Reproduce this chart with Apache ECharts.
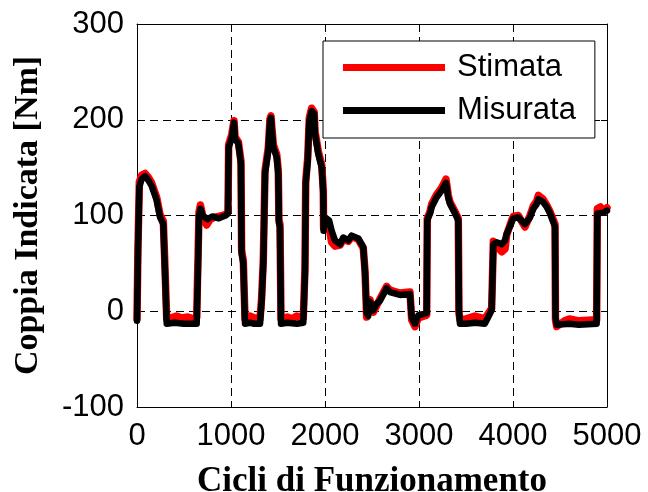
<!DOCTYPE html>
<html>
<head>
<meta charset="utf-8">
<script src="https://cdn.jsdelivr.net/npm/echarts@6/dist/echarts.min.js"></script>
<style>
  html, body { margin: 0; padding: 0; background: #fff; }
  #chart { width: 648px; height: 492px; }
</style>
</head>
<body>
<div id="chart"></div>
<script>
// Axis ranges and tick labels
const xTicks = [0, 1000, 2000, 3000, 4000, 5000];
const yTicks = [-100, 0, 100, 200, 300];

// Measured indicated torque (cycle, Nm)
const misurataX = [0, 10, 25, 50, 85, 120, 156, 209, 245, 280, 298, 316, 400, 500, 635, 652, 660, 675, 700, 750, 800, 870, 940, 968, 975, 1007, 1032, 1043, 1078, 1106, 1113, 1131, 1149, 1200, 1250, 1309, 1326, 1344, 1362, 1397, 1415, 1425, 1450, 1486, 1503, 1510, 1521, 1532, 1600, 1700, 1769, 1787, 1795, 1816, 1833, 1858, 1885, 1894, 1929, 1965, 1982, 1985, 2000, 2043, 2071, 2106, 2160, 2195, 2248, 2284, 2354, 2407, 2426, 2443, 2460, 2479, 2497, 2514, 2550, 2585, 2656, 2691, 2798, 2904, 2922, 2957, 2993, 3082, 3088, 3117, 3135, 3188, 3241, 3287, 3312, 3330, 3383, 3418, 3425, 3436, 3500, 3600, 3700, 3773, 3791, 3826, 3880, 3915, 3933, 3986, 4003, 4056, 4127, 4181, 4216, 4252, 4270, 4287, 4320, 4358, 4394, 4447, 4452, 4465, 4600, 4700, 4890, 4897, 4961, 5000];
const misurataY = [-10, 60, 130, 138, 141, 137, 131, 116, 98, 91, 40, -13, -12, -13, -13, 60, 100, 107, 100, 96, 99, 97, 100, 102, 171, 181, 197, 180, 175, 154, 60, 50, -13, -12, -13, -13, 11, 50, 144, 168, 199, 202, 171, 161, 144, 92, 88, -13, -12, -13, -12, 40, 133, 157, 199, 209, 206, 185, 164, 150, 123, 84, 98, 95, 84, 74, 70, 77, 74, 79, 76, 67, 40, -2, -5, 10, 11, 1, 8, 11, 24, 20, 17, 18, -6, -13, -4, -2, 95, 102, 109, 119, 126, 134, 118, 112, 102, 95, 1, -13, -13, -12, -13, 1, 70, 72, 70, 74, 81, 93, 97, 98, 91, 98, 107, 112, 117, 119, 114, 109, 102, 88, -6, -14, -13, -14, -13, 102, 103, 105];

// Estimated indicated torque (cycle, Nm)
const stimataX = [0, 10, 25, 50, 85, 120, 156, 209, 245, 280, 298, 316, 360, 420, 480, 540, 600, 635, 652, 660, 675, 700, 741, 780, 820, 870, 940, 968, 975, 1007, 1032, 1043, 1078, 1106, 1113, 1131, 1149, 1200, 1250, 1309, 1326, 1344, 1362, 1397, 1415, 1425, 1450, 1486, 1503, 1510, 1521, 1532, 1600, 1650, 1700, 1769, 1787, 1795, 1816, 1833, 1858, 1885, 1894, 1929, 1965, 1982, 1985, 2000, 2043, 2071, 2106, 2160, 2195, 2248, 2284, 2354, 2407, 2426, 2443, 2460, 2479, 2497, 2514, 2550, 2585, 2656, 2691, 2798, 2904, 2922, 2957, 2993, 3082, 3088, 3117, 3135, 3188, 3241, 3287, 3312, 3330, 3383, 3418, 3425, 3436, 3500, 3595, 3700, 3773, 3791, 3826, 3880, 3915, 3933, 3986, 4003, 4056, 4127, 4181, 4216, 4252, 4270, 4287, 4320, 4358, 4394, 4447, 4452, 4465, 4550, 4600, 4700, 4890, 4897, 4930, 4961, 5000];
const stimataY = [-8, 65, 135, 142, 144, 140, 134, 119, 101, 94, 45, -8, -7, -5, -7, -6, -8, -7, 70, 104, 111, 99, 90, 96, 98, 99, 101, 104, 174, 184, 199, 182, 177, 157, 64, 53, -8, -5, -7, -8, 14, 55, 147, 171, 201, 204, 174, 164, 147, 95, 91, -8, -6, -8, -5, -7, 45, 136, 160, 202, 212, 208, 188, 167, 153, 126, 87, 94, 88, 72, 68, 69, 75, 73, 78, 75, 66, 42, -6, -8, 12, 13, -1, 6, 13, 26, 22, 19, 20, -9, -16, -7, -4, 97, 104, 112, 122, 129, 138, 121, 114, 104, 97, -2, -9, -8, -5, -8, 3, 73, 68, 62, 65, 80, 95, 99, 100, 88, 100, 110, 115, 121, 123, 117, 111, 104, 91, -9, -16, -10, -8, -10, -9, 107, 109, 104, 108];

const pairs = (xs, ys) => xs.map((x, i) => [x, ys[i]]);

const sansFont = 'Liberation Sans, Arial, sans-serif';
const serifFont = 'Liberation Serif, Times New Roman, serif';

const gridLine = { show: true, lineStyle: { color: '#000', width: 1, type: [8, 5] } };
const boxLine = { show: true, onZero: false, lineStyle: { color: '#000', width: 1 } };
const innerTick = { show: true, inside: true, length: 6, lineStyle: { color: '#000', width: 1 } };
const plainNumber = v => String(v);

const chart = echarts.init(document.getElementById('chart'), null, { renderer: 'canvas' });

chart.setOption({
  animation: false,
  backgroundColor: '#fff',
  grid: { left: 137, right: 41, top: 24, bottom: 85, containLabel: false, outerBoundsMode: 'none' },
  legend: {
    data: ['Stimata', 'Misurata'],
    orient: 'vertical',
    left: 323,
    top: 41,
    padding: [11, 19, 12, 20],
    itemGap: 12,
    itemWidth: 102,
    itemHeight: 7,
    icon: 'rect',
    borderColor: '#000',
    borderWidth: 1,
    backgroundColor: '#fff',
    textStyle: { fontSize: 31, fontFamily: sansFont, color: '#000', padding: [0, 0, 0, 7] }
  },
  xAxis: [
    {
      type: 'value', min: xTicks[0], max: xTicks[xTicks.length - 1], interval: 1000,
      position: 'bottom',
      axisLine: boxLine, axisTick: innerTick, splitLine: gridLine,
      axisLabel: { fontSize: 31, fontFamily: sansFont, color: '#000', margin: 14, formatter: plainNumber },
      name: 'Cicli di Funzionamento', nameLocation: 'middle', nameGap: 57,
      nameTextStyle: { fontSize: 35, fontFamily: serifFont, fontWeight: 'bold', color: '#000' }
    },
    {
      type: 'value', min: xTicks[0], max: xTicks[xTicks.length - 1], interval: 1000,
      position: 'top',
      axisLine: boxLine, axisTick: innerTick, splitLine: { show: false },
      axisLabel: { show: false }
    }
  ],
  yAxis: [
    {
      type: 'value', min: yTicks[0], max: yTicks[yTicks.length - 1], interval: 100,
      position: 'left',
      axisLine: boxLine, axisTick: innerTick, splitLine: gridLine,
      axisLabel: { fontSize: 31, fontFamily: sansFont, color: '#000', margin: 13, formatter: plainNumber },
      name: 'Coppia Indicata [Nm]', nameLocation: 'middle', nameGap: 92,
      nameTextStyle: { fontSize: 34, fontFamily: serifFont, fontWeight: 'bold', color: '#000' }
    },
    {
      type: 'value', min: yTicks[0], max: yTicks[yTicks.length - 1], interval: 100,
      position: 'right',
      axisLine: boxLine, axisTick: innerTick, splitLine: { show: false },
      axisLabel: { show: false }
    }
  ],
  series: [
    {
      name: 'Stimata', type: 'line', xAxisIndex: 0, yAxisIndex: 0,
      data: pairs(stimataX, stimataY),
      showSymbol: false, symbol: 'none',
      itemStyle: { color: '#ff0000' },
      lineStyle: { color: '#ff0000', width: 7.5, join: 'round', cap: 'round' },
      z: 2
    },
    {
      name: 'Misurata', type: 'line', xAxisIndex: 0, yAxisIndex: 0,
      data: pairs(misurataX, misurataY),
      showSymbol: false, symbol: 'none',
      itemStyle: { color: '#000000' },
      lineStyle: { color: '#000000', width: 6.5, join: 'round', cap: 'round' },
      z: 3
    }
  ]
});
</script>
</body>
</html>
